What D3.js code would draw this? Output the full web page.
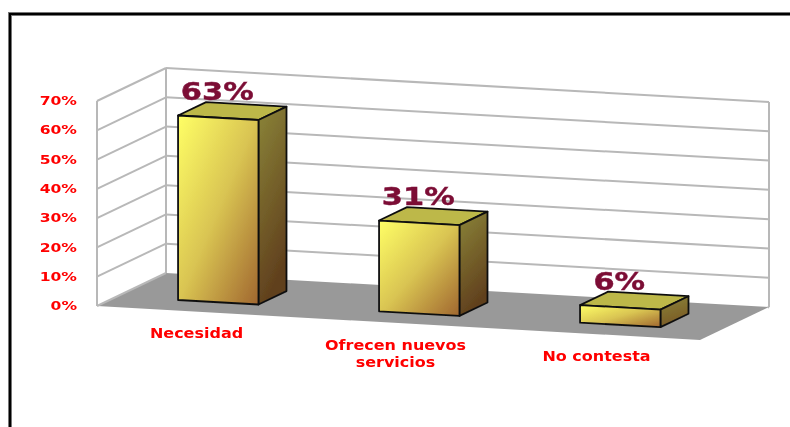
<!DOCTYPE html>
<html><head><meta charset="utf-8">
<style>html,body{margin:0;padding:0;background:#fff}svg{display:block}
text{font-family:"DejaVu Sans",sans-serif;font-weight:bold}</style>
<script src="https://cdn.jsdelivr.net/npm/d3@7"></script></head>
<body><svg id="c" width="790" height="427"></svg>
<script>
const categories=[["Necesidad"],["Ofrecen nuevos","servicios"],["No contesta"]];
const values=[63,31,6];
const labels=["63%","31%","6%"];
const yTicks=[0,10,20,30,40,50,60,70];

const svg=d3.select("#c");
const defs=svg.append("defs");
function grad(id,x2,y2,stops){
  const g=defs.append("linearGradient").attr("id",id).attr("x1",0).attr("y1",0).attr("x2",x2).attr("y2",y2);
  stops.forEach(s=>g.append("stop").attr("offset",s[0]).attr("stop-color",s[1]));
}
grad("front",1,1,[[0,"#ffff66"],[0.5,"#d9c452"],[1,"#a0662f"]]);
grad("side",0.3,1,[[0,"#8b8538"],[1,"#603f1d"]]);
grad("sideS",0.3,1,[[0,"#8b8538"],[1,"#7a5a26"]]);
defs.append("filter").attr("id","soft").append("feGaussianBlur").attr("stdDeviation",0.45);

// oblique projection: u along the category axis, d into depth, both 0..1
const uToX=d3.scaleLinear().domain([0,1]).range([0,603]);
const uToY=d3.scaleLinear().domain([0,1]).range([0,34]);
const dToX=d3.scaleLinear().domain([0,1]).range([0,69]);
const dToY=d3.scaleLinear().domain([0,1]).range([0,-33]);
const yVal=d3.scaleLinear().domain([0,70]).range([306,101]);
const band=d3.scaleBand().domain(d3.range(categories.length)).range([0,1]).paddingInner(0.6).paddingOuter(0.3);
const P=(u,d,v)=>[97+uToX(u)+dToX(d),yVal(v)+uToY(u)+dToY(d)];
const line=d3.line();
const root=svg.append("g").attr("filter","url(#soft)");
const poly=(pts,fill,stroke,w)=>root.append("path").attr("d",line(pts)+"Z").attr("fill",fill)
  .attr("stroke",stroke||"none").attr("stroke-width",w||0).attr("stroke-linejoin","round");

// floor
poly([P(0,0,0),P(1,0,0),P(1,1,0),P(0,1,0)],"#999999");
// grid
const gridColor="#b8b8b8";
const seg=(a,b)=>root.append("path").attr("d",line([a,b])).attr("fill","none").attr("stroke",gridColor).attr("stroke-width",2);
yTicks.forEach(t=>{
  if(t>0) seg(P(0,0,t),P(0,1,t));
  if(t>0) seg(P(0,1,t),P(1,1,t));
});
seg(P(0,0,0),P(0,0,70));
seg(P(0,1,0),P(0,1,70));
seg(P(1,1,0),P(1,1,70));
seg(P(0,0,0),P(0,1,0));
seg(P(1,1,0),P(1,0.98,0));

// bars
const d0=0.287,d1=0.693;
values.forEach((v,i)=>{
  const u0=band(i)+0.0016,u1=u0+band.bandwidth();
  poly([P(u0,d1,v),P(u1,d1,v),P(u1,d0,v),P(u0,d0,v)],"#bdb84a","#111",1.8);
  poly([P(u1,d0,0),P(u1,d1,0),P(u1,d1,v),P(u1,d0,v)],v<10?"url(#sideS)":"url(#side)","#111",1.8);
  poly([P(u0,d0,0),P(u1,d0,0),P(u1,d0,v),P(u0,d0,v)],"url(#front)","#111",1.8);
  const tl=P(u0,d0,v),tr=P(u1,d0,v);
  root.append("text").attr("text-anchor","middle")
    .attr("transform",`translate(${(tl[0]+tr[0])/2-1},${tl[1]-15.5}) scale(1.22,1)`)
    .attr("font-size",25).attr("fill","#7b0a35").attr("stroke","#7b0a35").attr("stroke-width",0.4).text(labels[i]);
  const c=band(i)+band.bandwidth()/2,b=P(c,0,0);
  const t=root.append("text").attr("text-anchor","middle").attr("font-size",13).attr("fill","#ff0000")
    .attr("transform",`translate(${b[0]-2+(i===0?1:-1)},${b[1]+26.5}) scale(1.23,1.05)`);
  categories[i].forEach((s,k)=>t.append("tspan").attr("x",0).attr("dy",k?16.5:0).text(s));
});

// value axis
const axis=d3.axisLeft(yVal).tickValues(yTicks).tickSize(0).tickPadding(0).tickFormat(d=>d+"%");
const ag=root.append("g").attr("transform","translate(77,-0.5) scale(1.2,1)").call(axis);
ag.select(".domain").remove();
ag.selectAll("text").attr("font-size",13).attr("font-family","'DejaVu Sans',sans-serif").attr("fill","#ff0000");

// frame
const fx=d3.scaleLinear().domain([0,1]).range([10,790]);
const fy=d3.scaleLinear().domain([0,1]).range([14,427]);
const framePath=line([[fx(0),fy(1)],[fx(0),fy(0)],[fx(1),fy(0)]]);
root.append("path").attr("d",framePath).attr("fill","none").attr("stroke","#777").attr("stroke-width",4);
root.append("path").attr("d",framePath).attr("fill","none").attr("stroke","#000").attr("stroke-width",2);
</script></body></html>
